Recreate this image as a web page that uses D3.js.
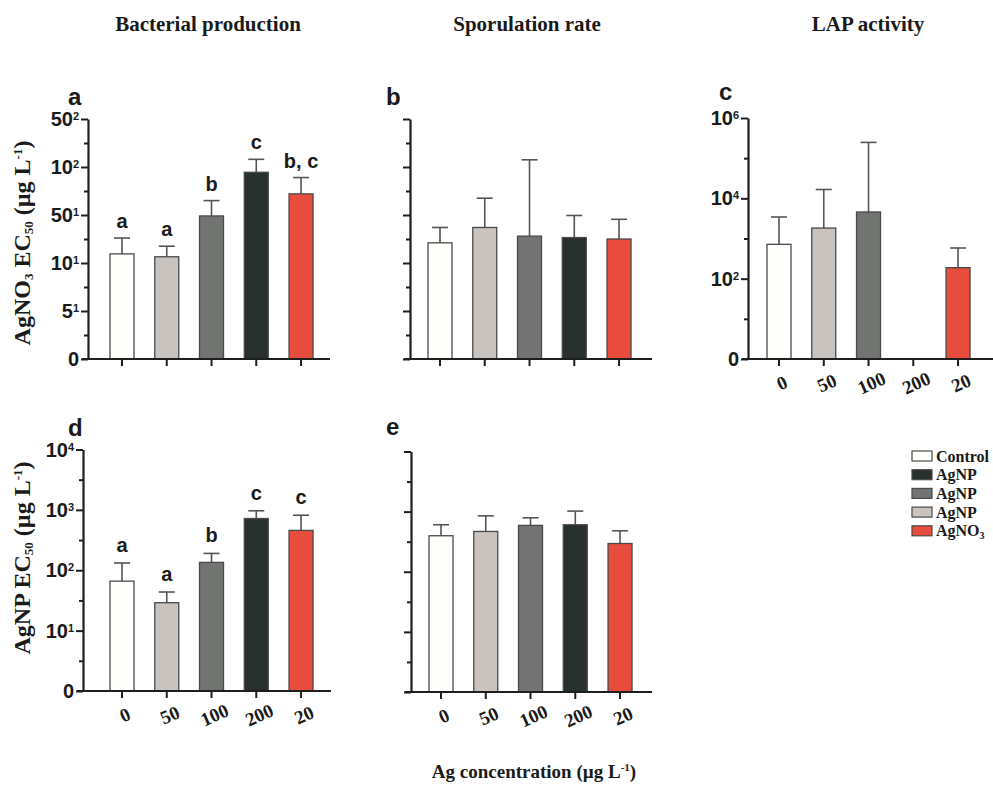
<!DOCTYPE html>
<html><head><meta charset="utf-8">
<script src="https://cdn.jsdelivr.net/npm/d3@7"></script>
<style>body{margin:0;background:#fff}</style>
</head><body><svg id="chart" width="993" height="785"></svg>
<script>
// ---------- data ----------
const categories = ["0","50","100","200","20"];
const barColors = ["#fefefb","#c8c3bf","#727472","#28302d","#e84c3c"];
const legendLabels = ["Control","AgNP","AgNP","AgNP","AgNO_3"];
const legendColors = ["#fefefb","#28302d","#727472","#c8c3bf","#e84c3c"];
const columnTitles = ["Bacterial production","Sporulation rate","LAP activity"];

// panels a & b: y axis in tick-position units (0..5)
const aTickValues = [0,1,2,3,4,5];
const aTickLabels = ["0","5^1","10^1","50^1","10^2","50^2"];
const aMean  = [2.19,2.13,2.98,3.89,3.44];
const aUpper = [2.52,2.35,3.30,4.16,3.78];
const aLetters = ["a","a","b","c","b, c"];
const bMean  = [2.42,2.74,2.56,2.53,2.50];
const bUpper = [2.74,3.35,4.15,2.99,2.91];
// panel c: log scale
const cTickValues = [1,1e2,1e4,1e6];
const cTickLabels = ["0","10^2","10^4","10^6"];
const cMean  = [716,1820,4570,null,188];
const cUpper = [3430,16600,247000,null,580];
// panels d & e: log scale
const dTickValues = [1,10,100,1000,10000];
const dTickLabels = ["0","10^1","10^2","10^3","10^4"];
const dMean  = [66,29,135,720,457];
const dUpper = [132,43.6,190,966,815];
const dLetters = ["a","a","b","c","c"];
const eMean  = [397,468,590,605,295];
const eUpper = [605,850,790,1020,480];

// ---------- drawing ----------
const svg = d3.select("#chart");
const SERIF = "'Liberation Serif','Times New Roman',serif";
const SANS = "'Liberation Sans',Arial,sans-serif";
const AXC = "#1e1e1e";

function supText(sel, str, supSize){
  const parts = str.split("^");
  sel.append("tspan").text(parts[0]);
  if(parts.length>1) sel.append("tspan").attr("baseline-shift","55%").attr("font-size",supSize).text(parts[1]);
}

function drawPanel(p){
  const g = svg.append("g");
  const y = p.log ? d3.scaleLog().domain(p.domain).range([p.yBot,p.yTop])
                  : d3.scaleLinear().domain(p.domain).range([p.yBot,p.yTop]);
  const step = 44.76;
  const x = d3.scaleBand().domain(categories)
     .range([p.fc - step/2, p.fc - step/2 + step*5]).paddingInner(0.464).paddingOuter(0.232);

  // bars
  categories.forEach((c,i)=>{
    const m = p.mean[i]; if(m==null) return;
    const u = p.upper[i];
    const cx = x(c) + x.bandwidth()/2;
    g.append("line").attr("x1",cx).attr("x2",cx).attr("y1",y(m)).attr("y2",y(u))
      .attr("stroke","#555").attr("stroke-width",1.6);
    g.append("line").attr("x1",cx-8).attr("x2",cx+8).attr("y1",y(u)).attr("y2",y(u))
      .attr("stroke","#555").attr("stroke-width",1.6);
    g.append("rect").attr("x",x(c)).attr("width",x.bandwidth())
      .attr("y",y(m)).attr("height",p.yBot - y(m))
      .attr("fill",barColors[i]).attr("stroke","#4a4a4a").attr("stroke-width",1.3);
    if(p.letters){
      g.append("text").attr("x",cx).attr("y",y(u)-p.letterGap).attr("text-anchor","middle")
        .attr("font-family",SANS).attr("font-weight","bold").attr("font-size",20).attr("fill","#1a1a1a")
        .text(p.letters[i]);
    }
  });

  // y axis
  const ya = g.append("g").attr("transform",`translate(${p.axisX},0)`)
    .call(d3.axisLeft(y).tickValues(p.ticks).tickSize(7).tickSizeOuter(0).tickFormat(""));
  ya.select(".domain").attr("stroke",AXC).attr("stroke-width",2.2);
  ya.selectAll(".tick line").attr("stroke",AXC).attr("stroke-width",2);
  const ym = g.append("g").attr("transform",`translate(${p.axisX},0)`)
    .call(d3.axisLeft(y).tickValues(p.minor).tickSize(4).tickSizeOuter(0).tickFormat(""));
  ym.select(".domain").remove();
  ym.selectAll(".tick line").attr("stroke",AXC).attr("stroke-width",2);
  if(p.tickLabels){
    p.ticks.forEach((t,i)=>{
      const tx = g.append("text").attr("x",p.axisX-9).attr("y",y(t)+7)
        .attr("text-anchor","end").attr("font-family",SANS).attr("font-weight","bold")
        .attr("font-size",20).attr("fill","#1a1a1a");
      supText(tx,p.tickLabels[i],11);
    });
  }

  // x axis
  g.append("line").attr("x1",p.axisX-6).attr("x2",p.xEnd).attr("y1",p.yBot).attr("y2",p.yBot)
    .attr("stroke",AXC).attr("stroke-width",2.2);
  const xa = g.append("g").attr("transform",`translate(0,${p.yBot})`)
    .call(d3.axisBottom(x).tickSize(7).tickSizeOuter(0).tickFormat(""));
  xa.select(".domain").remove();
  xa.selectAll(".tick line").attr("stroke",AXC).attr("stroke-width",2);
  if(p.xLabels){
    categories.forEach(c=>{
      const cx = x(c)+x.bandwidth()/2;
      g.append("text").attr("transform",`translate(${cx+3},${p.yBot+24}) rotate(-24)`)
        .attr("text-anchor","middle").attr("dominant-baseline","central")
        .attr("font-family",SERIF).attr("font-weight","bold").attr("font-size",19).attr("fill","#1a1a1a")
        .text(c);
    });
  }

  // panel letter
  g.append("text").attr("x",p.lx).attr("y",p.ly).attr("font-family",SANS).attr("font-weight","bold")
    .attr("font-size",24).attr("fill","#1a1a1a").text(p.name);
}

const halfDec = n => d3.range(0.5,n,1).map(k=>Math.pow(10,k));

drawPanel({name:"a",axisX:88,yTop:119,yBot:359,fc:122,xEnd:330,log:false,domain:[0,5],
  ticks:aTickValues,minor:d3.range(0.5,5,1),tickLabels:aTickLabels,mean:aMean,upper:aUpper,
  letters:aLetters,letterGap:10,lx:68,ly:105});
drawPanel({name:"b",axisX:410,yTop:119,yBot:359,fc:440,xEnd:652,log:false,domain:[0,5],
  ticks:aTickValues,minor:d3.range(0.5,5,1),mean:bMean,upper:bUpper,lx:386,ly:105});
drawPanel({name:"c",axisX:748,yTop:118,yBot:359,fc:779,xEnd:993,log:true,domain:[1,1e6],
  ticks:cTickValues,minor:[10,1e3,1e5],tickLabels:cTickLabels,mean:cMean,upper:cUpper,
  xLabels:true,lx:719,ly:100});
drawPanel({name:"d",axisX:83,yTop:449.5,yBot:691,fc:122,xEnd:331,log:true,domain:[1,1e4],
  ticks:dTickValues,minor:halfDec(4),tickLabels:dTickLabels,mean:dMean,upper:dUpper,
  letters:dLetters,letterGap:11,xLabels:true,lx:68,ly:436});
drawPanel({name:"e",axisX:411,yTop:451.5,yBot:692,fc:441,xEnd:652,log:true,domain:[1,1e4],
  ticks:dTickValues,minor:halfDec(4),mean:eMean,upper:eUpper,xLabels:true,lx:386,ly:435});

// column titles
[208,527,868].forEach((cx,i)=>{
  svg.append("text").attr("x",cx).attr("y",31).attr("text-anchor","middle")
    .attr("font-family",SERIF).attr("font-weight","bold").attr("font-size",21).attr("fill","#1a1a1a")
    .text(columnTitles[i]);
});

// y axis titles
function yTitle(cx,cy,lead,sub){
  const t = svg.append("text").attr("transform",`translate(${cx},${cy}) rotate(-90)`)
    .attr("text-anchor","middle").attr("font-family",SERIF).attr("font-weight","bold")
    .attr("font-size",24).attr("fill","#1a1a1a");
  t.append("tspan").text(lead);
  if(sub) t.append("tspan").attr("font-size",13).attr("baseline-shift","-25%").text(sub);
  t.append("tspan").text(" EC");
  t.append("tspan").attr("font-size",13).attr("baseline-shift","-25%").text("50");
  t.append("tspan").text(" (µg L");
  t.append("tspan").attr("font-size",13).attr("baseline-shift","60%").text("-1");
  t.append("tspan").text(")");
}
yTitle(30,243,"AgNO","3");
yTitle(30,558,"AgNP",null);

// bottom title
const bt = svg.append("text").attr("x",534).attr("y",778).attr("text-anchor","middle")
  .attr("font-family",SERIF).attr("font-weight","bold").attr("font-size",19).attr("fill","#1a1a1a");
bt.append("tspan").text("Ag concentration (µg L");
bt.append("tspan").attr("font-size",11).attr("baseline-shift","60%").text("-1");
bt.append("tspan").text(")");

// legend
const lg = svg.append("g");
legendLabels.forEach((lab,i)=>{
  const yy = 456 + i*18.7;
  lg.append("rect").attr("x",912).attr("y",yy-5).attr("width",20).attr("height",10)
    .attr("fill",legendColors[i]).attr("stroke","#4a4a4a").attr("stroke-width",1.2);
  const t = lg.append("text").attr("x",936).attr("y",yy+5.5).attr("font-family",SERIF)
    .attr("font-weight","bold").attr("font-size",16).attr("fill","#1a1a1a");
  const parts = lab.split("_");
  t.append("tspan").text(parts[0]);
  if(parts.length>1) t.append("tspan").attr("font-size",10).attr("baseline-shift","-30%").text(parts[1]);
});
</script></body></html>
